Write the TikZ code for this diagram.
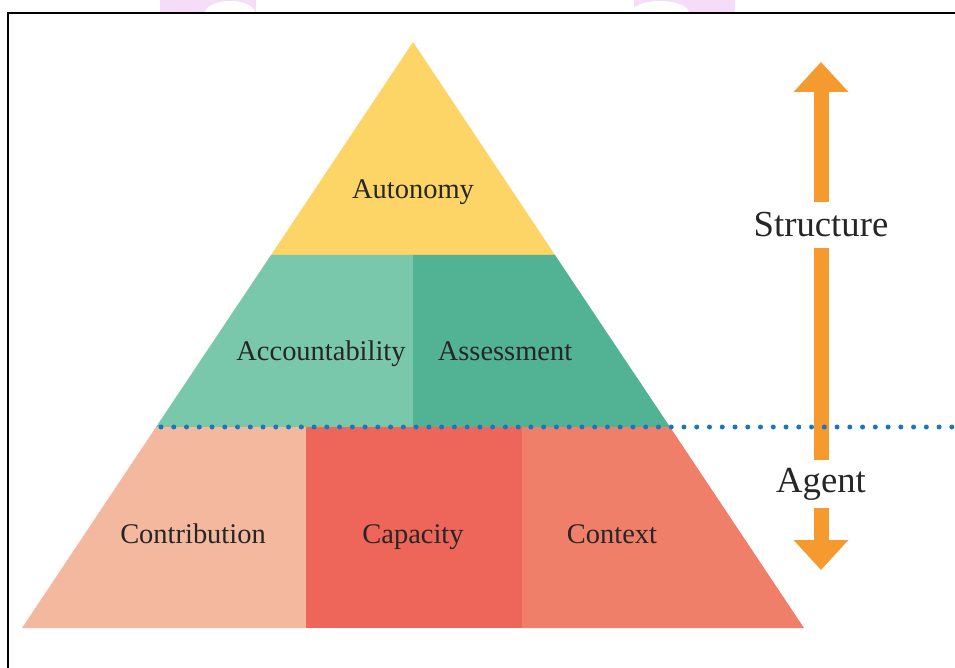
\documentclass[tikz,border=0pt]{standalone}
\usepackage{fontspec}
\setmainfont{Liberation Serif}
\usetikzlibrary{arrows.meta}

\definecolor{autonomy}{HTML}{FDD466}
\definecolor{account}{HTML}{79C8AB}
\definecolor{assess}{HTML}{52B394}
\definecolor{contrib}{HTML}{F4B89F}
\definecolor{capacity}{HTML}{EE6659}
\definecolor{context}{HTML}{F07F69}
\definecolor{arroworange}{HTML}{F59A2E}
\definecolor{dotblue}{HTML}{1D75BA}
\definecolor{wmpink}{HTML}{F5DDF8}

\begin{document}
\begin{tikzpicture}[x=0.02cm,y=-0.02cm,
  lvl/.style={font=\fontsize{16.2}{19}\selectfont,text=black!85,text height=1.6ex,text depth=0.45ex},
  side/.style={font=\fontsize{20.9}{25}\selectfont,text=black!85,inner sep=0pt},
  flow/.style={draw=arroworange,line width=0.3cm,-{Triangle[length=0.6cm,width=1.06cm]}}]
\useasboundingbox (0,0) rectangle (955,668);

% watermark remains above the frame
\fill[wmpink] (160,0) rectangle (256,13);
\fill[wmpink] (634,0) rectangle (735,13);
\fill[white] (230,13) ellipse [x radius=25, y radius=12];
\fill[white] (660,13) ellipse [x radius=29, y radius=12];

\draw[line width=0.04cm] (8,668) -- (8,13) -- (955,13);

% pyramid
\fill[autonomy] (413,42) -- (555,255) -- (271,255) --cycle;
\fill[account] (271,255) -- (413,255) -- (413,427) -- (156,427) --cycle;
\fill[assess] (413,255) -- (555,255) -- (670,427) -- (413,427) --cycle;
\fill[contrib] (156,427) -- (306,427) -- (306,628) -- (22,628) --cycle;
\fill[capacity] (306,427) rectangle (522,628);
\fill[context] (522,427) -- (670,427) -- (804,628) -- (522,628) --cycle;

\node[lvl] (autonomy) at (413,194) {Autonomy};
\node[lvl] (accountability) at (321,356) {Accountability};
\node[lvl] (assessment) at (505,356) {Assessment};
\node[lvl] (contribution) at (193,539) {Contribution};
\node[lvl] (capacityl) at (413,539) {Capacity};
\node[lvl] (contextl) at (612,539) {Context};

% structure / agent arrow
\coordinate (uptip) at (821,62);
\coordinate (downtip) at (821,570);
\node[side,minimum height=0.9cm] (structure) at (821,225) {Structure};
\node[side,minimum height=0.96cm] (agent) at (821,484) {Agent};
\draw[flow] (structure.north) -- (uptip);
\draw[flow,-] (structure.south) -- (agent.north);
\draw[flow] (agent.south) -- (downtip);

\draw[dotblue,line width=0.1cm,line cap=round,dash pattern=on 0pt off 7.26pt] (161,427) -- (955,427);
\end{tikzpicture}
\end{document}
